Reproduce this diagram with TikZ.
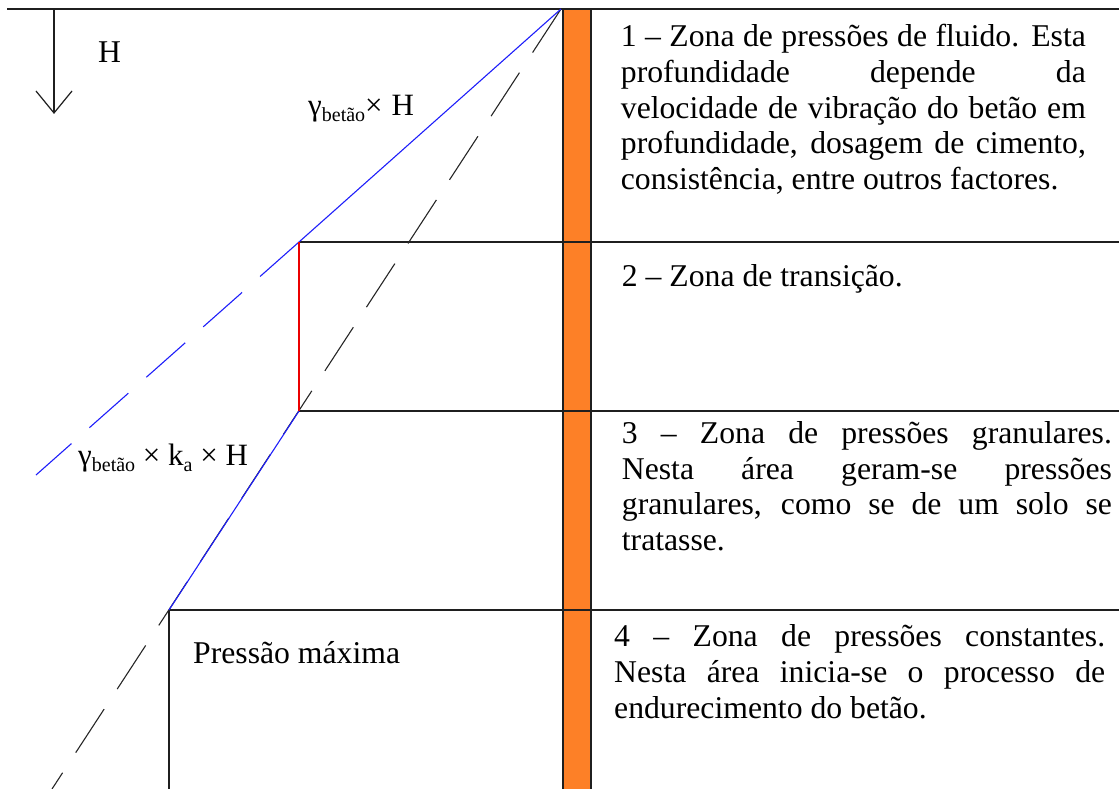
\documentclass[tikz,border=0pt]{standalone}
\usepackage{fontspec}
\setmainfont{Liberation Serif}
\definecolor{barorange}{RGB}{253,128,39}
\definecolor{lineblue}{RGB}{30,30,250}
\definecolor{linered}{RGB}{235,0,0}
\newcommand\jline[2]{\makebox[#1][s]{#2}}
\newcommand\lsub[1]{\raisebox{-6pt}{\fontsize{20}{20}\selectfont #1}}
\begin{document}
\begin{tikzpicture}[x=1pt,y=-1pt,
  frame/.style={draw=black!88, line width=1.4pt},
  pline/.style={line width=1.1pt},
  dashpat/.style={dash pattern=on 52pt off 24pt},
  body/.style={anchor=base west, inner sep=0pt, font=\fontsize{31.7}{35.7}\selectfont},
  lbl/.style={anchor=base west, inner sep=0pt, font=\fontsize{31}{32}\selectfont}]
\useasboundingbox (0,0) rectangle (1119,789);
% key points
\coordinate (tl) at (7,9);
\coordinate (tr) at (1119,9);
\coordinate (apex) at (561,9);
\coordinate (b1) at (299,242);
\coordinate (b2) at (299,411);
\coordinate (b3) at (169,610);
\coordinate (bend) at (36,475);
\coordinate (kend) at (52,789);
\coordinate (r1) at (1119,242);
\coordinate (r2) at (1119,411);
\coordinate (r3) at (1119,610);
\coordinate (v3) at (169,789);
\coordinate (atop) at (54,9);
\coordinate (atip) at (54,113);
\coordinate (al) at (36,91);
\coordinate (ar) at (72,91);
% orange wall
\fill[barorange] (563,9) rectangle (591,795);
\draw[black!88, line width=1.2pt] (563,9) -- (563,795) (591,9) -- (591,795);
% frame lines
\draw[frame] (tl) -- (tr);
\draw[frame] (b1) -- (r1);
\draw[frame] (b2) -- (r2);
\draw[frame] (b3) -- (r3);
\draw[frame] (b3) -- (v3);
% depth arrow
\draw[black!88, line width=1.2pt] (atop) -- (atip);
\draw[black!88, line width=1.2pt] (al) -- (atip) -- (ar);
% pressure lines
\draw[black!85, pline, dashpat] (apex) -- (kend);
\draw[lineblue, pline] (apex) -- (b1);
\draw[lineblue, pline, dashpat] (b1) -- (bend);
\draw[lineblue, pline] (b2) -- (b3);
\draw[draw=linered, line width=1.4pt] (b1) -- (b2);
% labels
\node[body] (hlab) at (98,63) {H};
\node[lbl] (lab1) at (308,116) {γ\lsub{betão}×\hspace{9pt}H};
\node[lbl] (lab2) at (78,465) {γ\lsub{betão} × k\lsub{a} × H};
\node[body] (pmax) at (193,663) {Pressão máxima};
% zone 1
\node[body] (z1a) at (620.7,46.7) {\jline{465pt}{1 – Zona de pressões de fluido. Esta}};
\node[body] (z1b) at (620.7,82.4) {\jline{465pt}{profundidade depende da}};
\node[body] (z1c) at (620.7,118.1) {\jline{465pt}{velocidade de vibração do betão em}};
\node[body] (z1d) at (620.7,153.8) {\jline{465pt}{profundidade, dosagem de cimento,}};
\node[body] (z1e) at (620.7,189.5) {consistência, entre outros factores.};
% zone 2
\node[body] (z2a) at (621.7,286.7) {2 – Zona de transição.};
% zone 3
\node[body] (z3a) at (621.7,443.3) {\jline{490pt}{3 – Zona de pressões granulares.}};
\node[body] (z3b) at (621.7,479) {\jline{490pt}{Nesta área geram-se pressões}};
\node[body] (z3c) at (621.7,514.7) {\jline{490pt}{granulares, como se de um solo se}};
\node[body] (z3d) at (621.7,550.4) {tratasse.};
% zone 4
\node[body] (z4a) at (614,646.7) {\jline{491pt}{4 – Zona de pressões constantes.}};
\node[body] (z4b) at (614,682.4) {\jline{491pt}{Nesta área inicia-se o processo de}};
\node[body] (z4c) at (614,718.1) {endurecimento do betão.};
\end{tikzpicture}
\end{document}
